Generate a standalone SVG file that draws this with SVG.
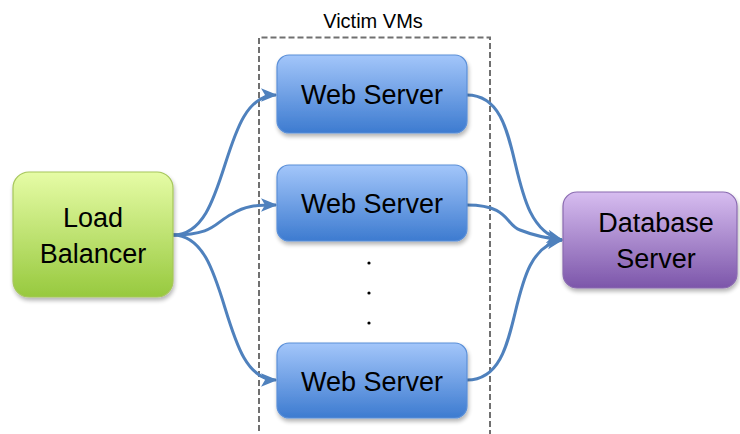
<svg xmlns="http://www.w3.org/2000/svg" width="740" height="434" viewBox="0 0 740 434">
  <style>
    .lbl { font-family: "Liberation Sans", Arial, sans-serif; fill: #000; text-anchor: middle; }
    .big { font-size: 27px; }
    .title { font-size: 20px; }
    .conn { fill: none; stroke: #4f81bd; stroke-width: 3; }
    .web { fill: url(#gWeb); stroke: #5a8fd8; stroke-width: 1.2; filter: url(#shadow); }
    .lb { fill: url(#gLb); stroke: #a6c65a; stroke-width: 1.2; filter: url(#shadow); }
    .db { fill: url(#gDb); stroke: #8a6bb0; stroke-width: 1.2; filter: url(#shadow); }
  </style>
  <defs>
    <linearGradient id="gWeb" x1="0" y1="0" x2="0" y2="1">
      <stop offset="0" stop-color="#a3c6fa"/>
      <stop offset="1" stop-color="#3d7bd0"/>
    </linearGradient>
    <linearGradient id="gLb" x1="0" y1="0" x2="0" y2="1">
      <stop offset="0" stop-color="#e6fca6"/>
      <stop offset="1" stop-color="#97c93e"/>
    </linearGradient>
    <linearGradient id="gDb" x1="0" y1="0" x2="0" y2="1">
      <stop offset="0" stop-color="#d7bdf0"/>
      <stop offset="1" stop-color="#7c56aa"/>
    </linearGradient>
    <filter id="shadow" x="-10%" y="-10%" width="130%" height="140%">
      <feGaussianBlur in="SourceAlpha" stdDeviation="2"/>
      <feOffset dx="1" dy="3" result="b"/>
      <feComponentTransfer><feFuncA type="linear" slope="0.3"/></feComponentTransfer>
      <feMerge><feMergeNode/><feMergeNode in="SourceGraphic"/></feMerge>
    </filter>
    <marker id="arrow" viewBox="0 0 12 10" refX="11" refY="5" markerWidth="5.5" markerHeight="5" orient="auto" markerUnits="strokeWidth">
      <path d="M0,0 L12,5 L0,10 L3,5 z" fill="#4f81bd"/>
    </marker>
  </defs>

  <!-- victim VM enclosure -->
  <g id="victim-vms">
    <path d="M259,440 L259,37.5 L490,37.5 L490,440" fill="none" stroke="#707070" stroke-width="2" stroke-dasharray="6,3"/>
    <text class="lbl title" x="373" y="28">Victim VMs</text>
  </g>

  <!-- connectors -->
  <g id="connectors">
    <path class="conn" marker-end="url(#arrow)" d="M173,235 C232,235 218,95 276,95"/>
    <path class="conn" marker-end="url(#arrow)" d="M173,235 C215,235 215,222 232,214 C245,206 255,205 276,205"/>
    <path class="conn" marker-end="url(#arrow)" d="M173,235 C232,235 218,380 276,380"/>
    <path class="conn" marker-end="url(#arrow)" d="M467,95 C530,95 500,225 562,240"/>
    <path class="conn" marker-end="url(#arrow)" d="M467,205 C510,205 505,225 520,230 C535,236 545,238 562,240"/>
    <path class="conn" marker-end="url(#arrow)" d="M467,380 C530,380 500,250 562,240"/>
  </g>

  <g id="load-balancer">
    <rect class="lb" x="13" y="172" width="160" height="125" rx="16"/>
    <text class="lbl big" x="93" y="227">Load</text>
    <text class="lbl big" x="93" y="263">Balancer</text>
  </g>

  <g id="web-server-1">
    <rect class="web" x="277" y="55" width="190" height="78" rx="12"/>
    <text class="lbl big" x="372" y="104">Web Server</text>
  </g>
  <g id="web-server-2">
    <rect class="web" x="277" y="165" width="190" height="76" rx="12"/>
    <text class="lbl big" x="372" y="213">Web Server</text>
  </g>
  <g id="web-server-n">
    <rect class="web" x="277" y="343" width="190" height="75" rx="12"/>
    <text class="lbl big" x="372" y="391">Web Server</text>
  </g>

  <g id="ellipsis">
    <circle cx="369" cy="263" r="1.6" fill="#000"/>
    <circle cx="369" cy="293" r="1.6" fill="#000"/>
    <circle cx="369" cy="323" r="1.6" fill="#000"/>
  </g>

  <g id="database-server">
    <rect class="db" x="563" y="192" width="174" height="96" rx="14"/>
    <text class="lbl big" x="656" y="232">Database</text>
    <text class="lbl big" x="656" y="268">Server</text>
  </g>
</svg>
